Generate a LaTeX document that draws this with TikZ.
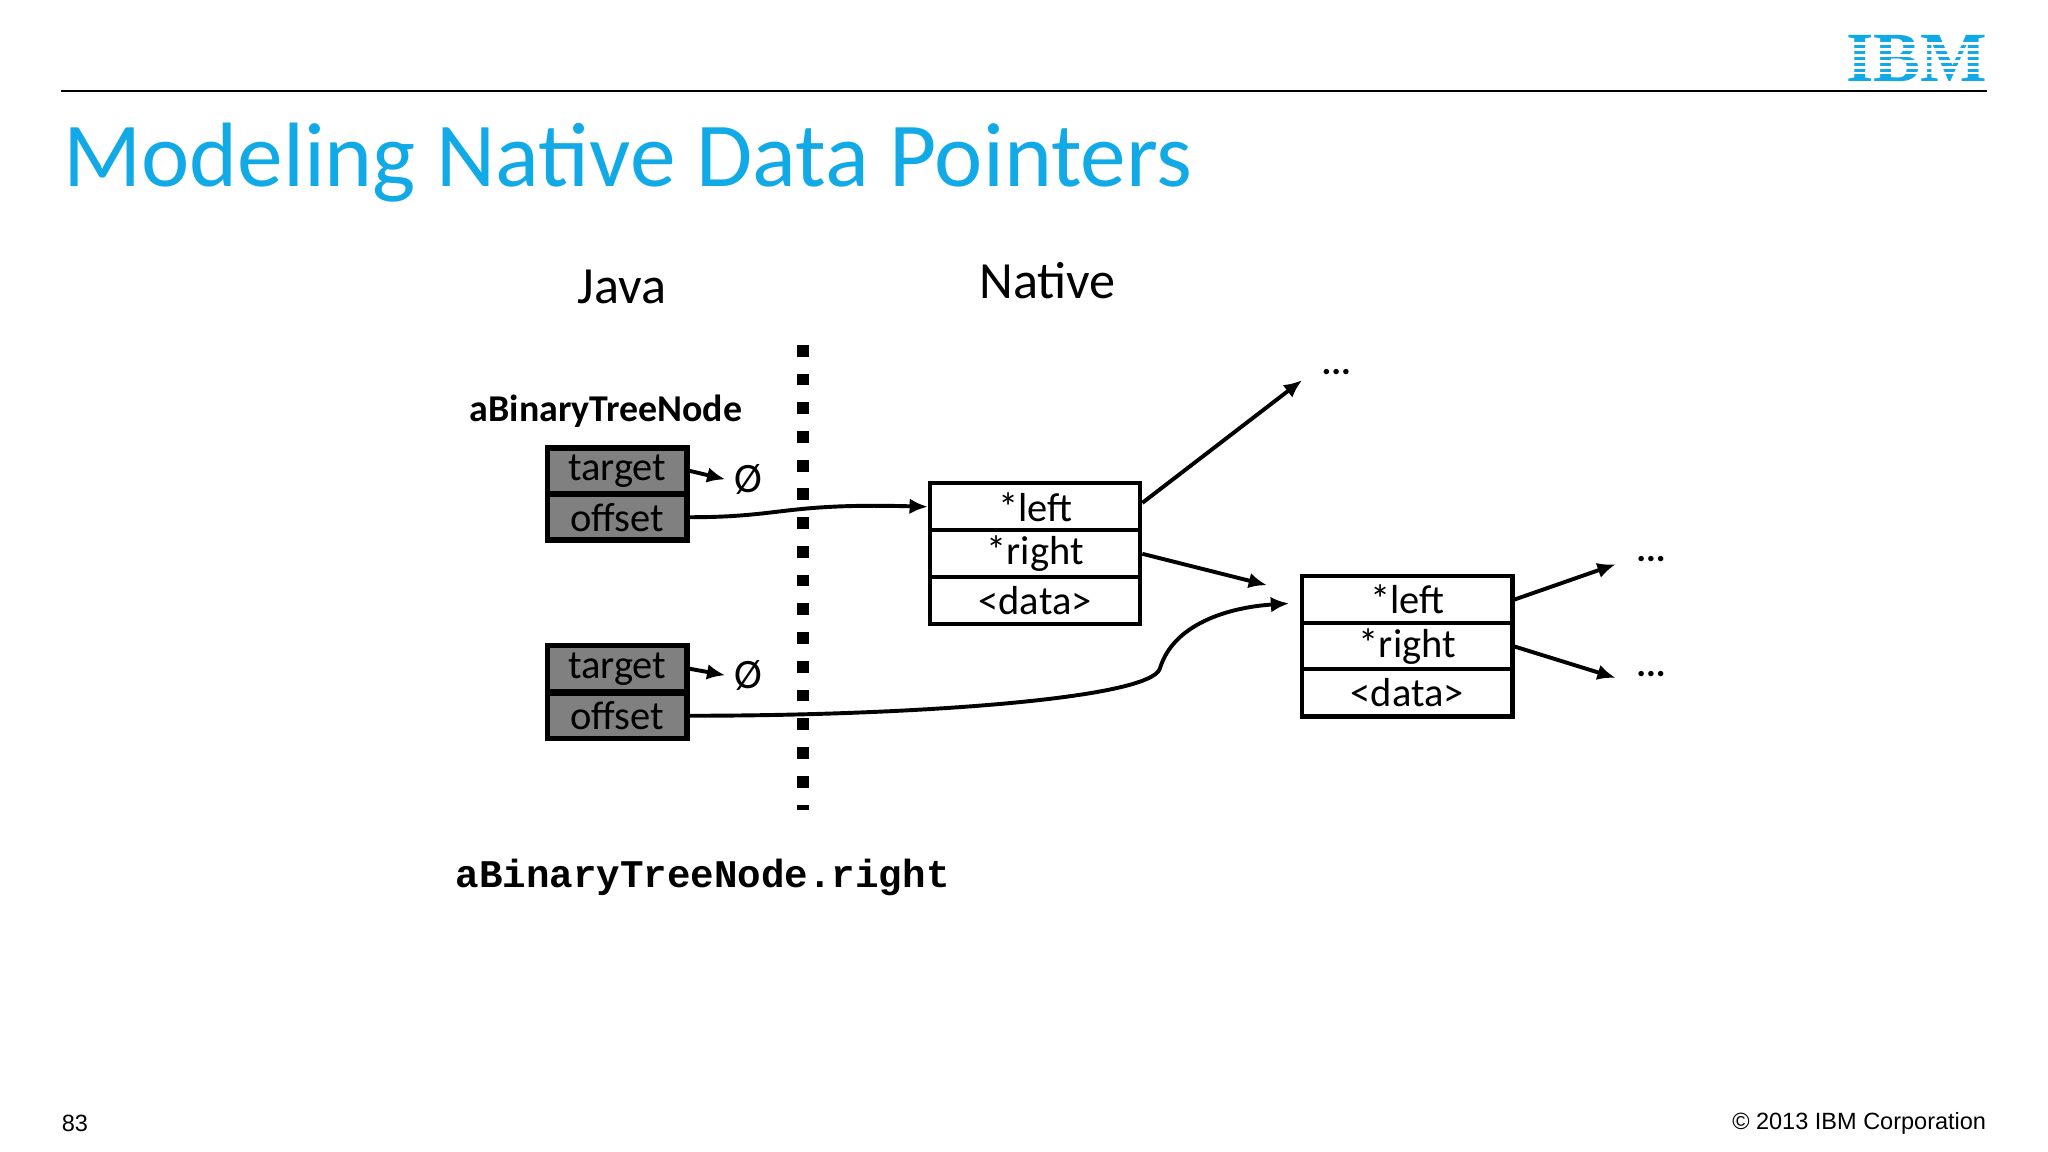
\documentclass[tikz,border=0pt]{standalone}
\usepackage{fontspec}
\setmainfont{Carlito}
\newfontfamily\mono{Liberation Mono}
\newfontfamily\arial{Liberation Sans}
\newfontfamily\ibmfont{Liberation Serif}
\usetikzlibrary{arrows.meta}
\definecolor{ibmblue}{RGB}{18,170,230}
\definecolor{boxgray}{RGB}{128,128,128}
\begin{document}
\begin{tikzpicture}[x=0.5pt,y=-0.5pt,
  gbox/.style={draw=black,line width=2pt,fill=boxgray,minimum width=53.5pt,minimum height=17.5pt,inner sep=0pt,font=\fontsize{15.5}{15.5}\selectfont},
  wbox/.style={draw=black,line width=1.6pt,fill=white,minimum width=80.5pt,minimum height=18pt,inner sep=0pt,font=\fontsize{15.5}{15.5}\selectfont},
  arr/.style={line width=1.5pt,-{Latex[length=7pt,width=6pt]}},
  lbl/.style={font=\fontsize{16}{16}\selectfont}]
\useasboundingbox (0,0) rectangle (1568,882);
% header
\draw[line width=0.8pt] (47,70) -- (1521,70);
\node[anchor=east,text=ibmblue,font=\fontsize{27}{27}\ibmfont\bfseries\selectfont,inner sep=0pt] (ibm) at (1522,45) {IBM};
\foreach \yy in {33.5,38,42.5,47,51.5,56}{\draw[white,line width=1pt] (1412,\yy) -- (1525,\yy);}
\node[anchor=base west,text=ibmblue,font=\fontsize{35}{35}\selectfont,inner sep=0pt] (title) at (48,143) {Modeling Native Data Pointers};
% headings
\node[font=\fontsize{20}{20}\selectfont] (java) at (476,220) {Java};
\node[font=\fontsize{20}{20}\selectfont] (native) at (802,215) {Native};
\node[font=\fontsize{14.5}{14.5}\bfseries\selectfont] (abtn) at (464,315) {aBinaryTreeNode};
% java boxes
\node[gbox] (t1) at (472.5,360.5) {target};
\node[gbox] (o1) at (472.5,396) {offset};
\node[gbox] (t2) at (472.5,512) {target};
\node[gbox] (o2) at (472.5,548) {offset};
\node[lbl] (n1) at (573,367) {Ø};
\node[lbl] (n2) at (573,517) {Ø};
\draw[arr] (t1.east) -- (n1.west);
\draw[arr] (t2.east) -- (n2.west);
% divider
\draw[line width=4.5pt,dash pattern=on 4.5pt off 6.5pt] (615,264) -- (615,620);
% native boxes
\node[wbox] (l1) at (792.5,388) {*left};
\node[wbox] (r1) at (792.5,424) {*right};
\node[wbox] (d1) at (792.5,459.5) {<data>};
\node[wbox] (l2) at (1077.5,459) {*left};
\node[wbox] (r2) at (1077.5,495) {*right};
\node[wbox] (d2) at (1077.5,530.5) {<data>};
% dots
\node[font=\fontsize{14}{14}\bfseries\selectfont] (e1) at (1023,285) {...};
\node[font=\fontsize{14}{14}\bfseries\selectfont] (e2) at (1264,428) {...};
\node[font=\fontsize{14}{14}\bfseries\selectfont] (e3) at (1264,516) {...};
\coordinate (a1) at (997,291);
\coordinate (a2) at (970,448);
\coordinate (a3) at (1237,432);
\coordinate (a4) at (1237,519);
\coordinate (a5) at (987,462);
% connectors
\draw[arr] (o1.east) .. controls (600,396) and (600,385) .. (l1.west);
\draw[arr] (o2.east) .. controls (700,548) and (880,535) .. (888,512) .. controls (898,478) and (940,465) .. (a5);
\draw[arr] (l1.east |- 0,385) -- (a1);
\draw[arr] (r1.east) -- (a2);
\draw[arr] (l2.east) -- (a3);
\draw[arr] (r2.east) -- (a4);
% code
\node[font=\fontsize{15}{15}\mono\bfseries\selectfont] (code) at (538,672) {aBinaryTreeNode.right};
% footer
\node[anchor=west,font=\fontsize{9}{9}\arial\selectfont,inner sep=0pt] (pg) at (47,860) {83};
\node[anchor=east,font=\fontsize{9}{9}\arial\selectfont,inner sep=0pt] (copy) at (1521,860) {© 2013 IBM Corporation};
\end{tikzpicture}
\end{document}
